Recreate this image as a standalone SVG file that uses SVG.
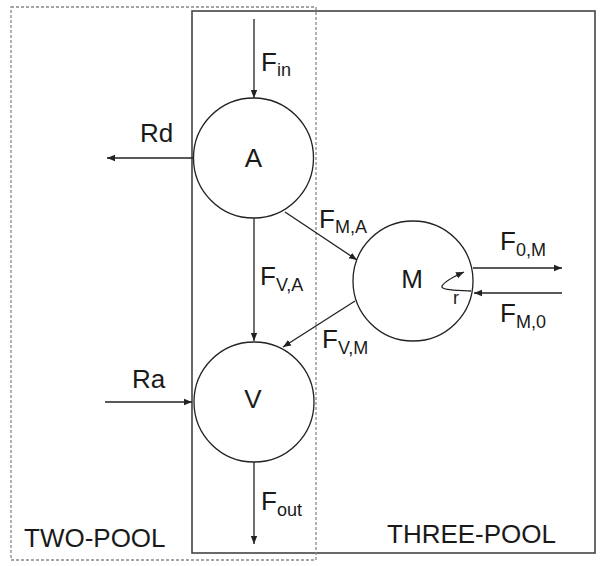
<svg xmlns="http://www.w3.org/2000/svg" width="607" height="566" viewBox="0 0 607 566">
<style>
.lbl{font-family:"Liberation Sans",Arial,sans-serif;font-size:26px;fill:#1a1a1a}
.sub{font-size:18px}
.pool{fill:none;stroke:#222;stroke-width:1.3}
.flow{stroke:#222;stroke-width:1.3;fill:none;marker-end:url(#ah)}
</style>
<defs>
<marker id="ah" markerUnits="userSpaceOnUse" markerWidth="10" markerHeight="8" refX="8" refY="4" orient="auto">
<path d="M0,0.8 L8,4 L0,7.2 Z" fill="#222"/>
</marker>
</defs>
<rect width="607" height="566" fill="#fff"/>
<g id="three-pool-box">
<rect x="192" y="11" width="403" height="542" fill="none" stroke="#444" stroke-width="1.6"/>
<text class="lbl" x="387" y="543">THREE-POOL</text>
</g>
<g id="two-pool-box">
<rect x="11" y="7" width="305" height="553" fill="none" stroke="#888" stroke-width="1.3" stroke-dasharray="3,2"/>
<text class="lbl" x="24" y="547">TWO-POOL</text>
</g>
<g id="node-A">
<circle class="pool" cx="253.5" cy="158" r="60"/>
<text class="lbl" x="253.5" y="167" text-anchor="middle">A</text>
</g>
<g id="node-M">
<circle class="pool" cx="413" cy="281" r="60"/>
<text class="lbl" x="412" y="288" text-anchor="middle">M</text>
</g>
<g id="node-V">
<circle class="pool" cx="254" cy="402" r="60"/>
<text class="lbl" x="253" y="408" text-anchor="middle">V</text>
</g>
<g id="connectors">
<line class="flow" x1="254" y1="19" x2="254" y2="98"/>
<line class="flow" x1="193" y1="158" x2="107" y2="158"/>
<line class="flow" x1="254" y1="218" x2="254" y2="341"/>
<line class="flow" x1="285" y1="212" x2="357" y2="260"/>
<line class="flow" x1="355" y1="301" x2="283" y2="347"/>
<line class="flow" x1="105" y1="402" x2="192" y2="402"/>
<line class="flow" x1="254" y1="462" x2="254" y2="544"/>
<line class="flow" x1="473" y1="268" x2="562" y2="268"/>
<line class="flow" x1="562" y1="293" x2="474" y2="293"/>
<path class="flow" d="M471,291 C455,290 440,290 442,286 C445,281 455,276 464,272"/>
<text class="lbl" x="261" y="71">F<tspan class="sub" dy="5">in</tspan></text>
<text class="lbl" x="140" y="142">Rd</text>
<text class="lbl" x="319" y="228">F<tspan class="sub" dy="5">M,A</tspan></text>
<text class="lbl" x="260" y="285">F<tspan class="sub" dy="6">V,A</tspan></text>
<text class="lbl" x="322" y="348">F<tspan class="sub" dy="6">V,M</tspan></text>
<text class="lbl" x="500" y="250">F<tspan class="sub" dy="6">0,M</tspan></text>
<text class="lbl" x="500" y="322">F<tspan class="sub" dy="6">M,0</tspan></text>
<text class="lbl" x="453" y="304" style="font-size:18px">r</text>
<text class="lbl" x="132" y="388">Ra</text>
<text class="lbl" x="261" y="510">F<tspan class="sub" dy="6">out</tspan></text>
</g>
</svg>
